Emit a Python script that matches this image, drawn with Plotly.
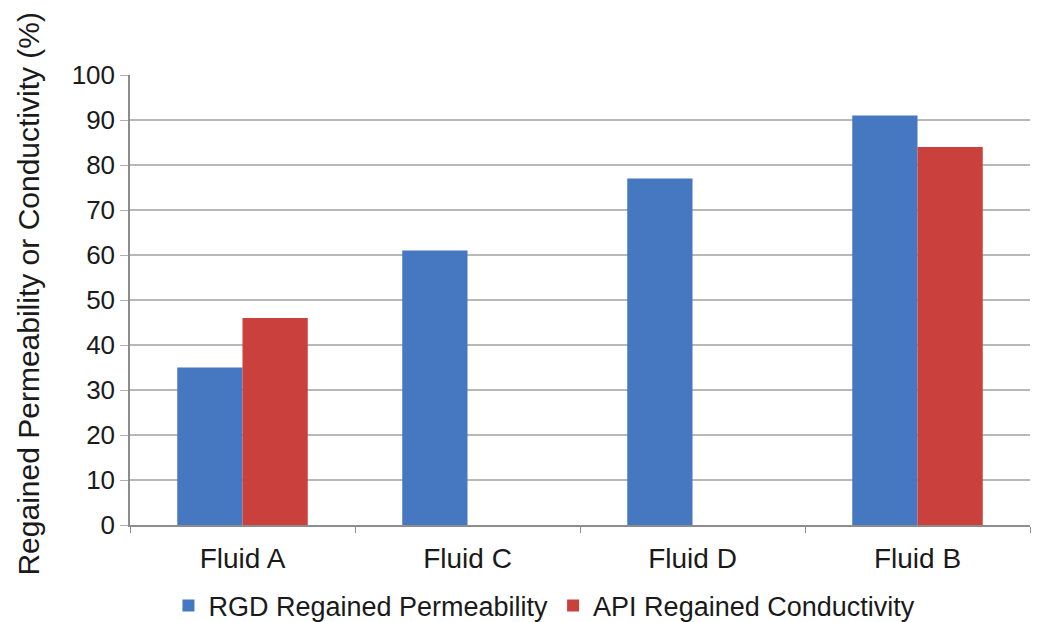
import plotly.graph_objects as go

categories = ["Fluid A", "Fluid C", "Fluid D", "Fluid B"]
rgd_permeability = [35, 61, 77, 91]
api_conductivity = [46, None, None, 84]
series_names = ["RGD Regained Permeability", "API Regained Conductivity"]
y_title = "Regained Permeability or Conductivity (%)"

blue = "#4677c1"
red = "#c9403c"
font_family = "Liberation Sans, Arial, sans-serif"

fig = go.Figure()
fig.add_trace(go.Bar(x=categories, y=rgd_permeability, name=series_names[0],
                     marker=dict(color=blue, line=dict(width=0))))
fig.add_trace(go.Bar(x=categories, y=api_conductivity, name=series_names[1],
                     marker=dict(color=red, line=dict(width=0))))

fig.update_layout(
    width=1041, height=622,
    margin=dict(l=130, r=11, t=75, b=97),
    paper_bgcolor="white", plot_bgcolor="white",
    barmode="group", bargap=0.42, bargroupgap=0,
    font=dict(family=font_family, color="#1a1a1a"),
    showlegend=True,
    legend=dict(orientation="h", xref="container", x=0.523, xanchor="center",
                yref="container", y=0.026, yanchor="middle",
                font=dict(size=27, family=font_family), itemsizing="constant",
                traceorder="normal", bgcolor="rgba(0,0,0,0)"),
    annotations=[dict(text=y_title, textangle=-90, xref="paper", yref="paper",
                      x=-0.113, y=0.515, xanchor="center", yanchor="middle",
                      showarrow=False, font=dict(size=30, family=font_family, color="#1a1a1a"))],
)
fig.update_xaxes(
    showline=True, linecolor="#8c8c8c", linewidth=1.5,
    ticks="outside", tickson="boundaries", ticklen=6, tickcolor="#8c8c8c",
    tickfont=dict(size=28, family=font_family), showgrid=False,
    ticklabelstandoff=8, automargin=False,
)
fig.update_yaxes(
    range=[0, 100], dtick=10, tick0=0,
    showline=True, linecolor="#8c8c8c", linewidth=1.5,
    ticks="outside", ticklen=8, tickcolor="#b0b0b0",
    showgrid=True, gridcolor="#b8b8b8", gridwidth=1.5,
    tickfont=dict(size=26, family=font_family),
    zeroline=False, automargin=False,
)

fig.write_html("out.html")
